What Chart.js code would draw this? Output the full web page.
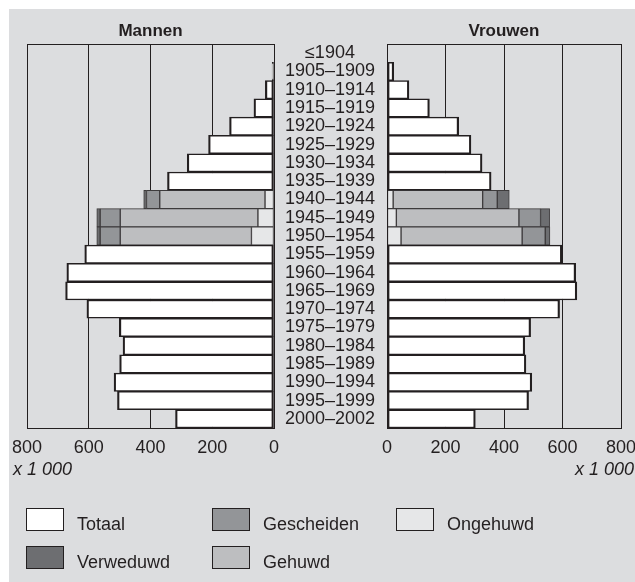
<!DOCTYPE html>
<html>
<head>
<meta charset="utf-8">
<title>Bevolking naar geboortejaar en burgerlijke staat</title>
<script src="https://cdn.jsdelivr.net/npm/chart.js@4.4.1/dist/chart.umd.min.js"></script>
<style>
  html, body { margin: 0; padding: 0; background: #fff; }
  body { width: 635px; height: 582px; position: relative; overflow: hidden;
         font-family: "Liberation Sans", Arial, Helvetica, sans-serif; color: #231f20; }
  #panel { position: absolute; left: 9px; top: 9px; right: 0; bottom: 0; background: #dcdddf; }
  canvas { position: absolute; top: 0; }
  #mannen { left: 0; }
  #vrouwen { left: 275px; }
  .eenheid { position: absolute; top: 458px; font-size: 18px; line-height: 22px; font-style: italic; }
  #legenda { position: absolute; left: 26px; top: 508px; display: grid;
             grid-template-columns: 186px 184px 200px; grid-template-rows: 38px 38px; grid-auto-flow: column; }
  .item { display: flex; align-items: flex-start; font-size: 18px; line-height: 22px; }
  .blok { width: 36px; height: 21px; border: 1px solid #231f20; box-sizing: content-box; }
  .item span { margin-left: 13px; margin-top: 5px; }
</style>
</head>
<body>
<div id="panel"></div>
<canvas id="mannen" width="282" height="582"></canvas>
<canvas id="vrouwen" width="360" height="582"></canvas>
<div class="eenheid" style="left:13px">x 1 000</div>
<div class="eenheid" style="right:1px">x 1 000</div>
<div id="legenda"></div>
<script>
// geboortejaren (van oud naar jong)
const geboortejaren = ['≤1904', '1905–1909', '1910–1914', '1915–1919', '1920–1924', '1925–1929',
  '1930–1934', '1935–1939', '1940–1944', '1945–1949', '1950–1954', '1955–1959', '1960–1964',
  '1965–1969', '1970–1974', '1975–1979', '1980–1984', '1985–1989', '1990–1994', '1995–1999', '2000–2002'];

// x 1 000; voor 1940-1954 is alleen de verdeling naar burgerlijke staat getekend
const mannenTotaal     = [0, 6, 28, 65, 144, 212, 281, 345, null, null, null, 613, 671, 675, 606, 501, 489, 500, 518, 507, 319];
const mannenOngehuwd   = [null, null, null, null, null, null, null, null, 29, 52, 73, null, null, null, null, null, null, null, null, null, null];
const mannenGehuwd     = [null, null, null, null, null, null, null, null, 341, 446, 425, null, null, null, null, null, null, null, null, null, null];
const mannenGescheiden = [null, null, null, null, null, null, null, null, 43, 65, 65, null, null, null, null, null, null, null, null, null, null];
const mannenVerweduwd  = [null, null, null, null, null, null, null, null, 9, 11, 11, null, null, null, null, null, null, null, null, null, null];

const vrouwenTotaal     = [0, 23, 75, 145, 245, 287, 325, 356, null, null, null, 598, 645, 649, 590, 491, 471, 475, 495, 484, 302];
const vrouwenOngehuwd   = [null, null, null, null, null, null, null, null, 21, 32, 48, null, null, null, null, null, null, null, null, null, null];
const vrouwenGehuwd     = [null, null, null, null, null, null, null, null, 306, 419, 414, null, null, null, null, null, null, null, null, null, null];
const vrouwenGescheiden = [null, null, null, null, null, null, null, null, 50, 74, 79, null, null, null, null, null, null, null, null, null, null];
const vrouwenVerweduwd  = [null, null, null, null, null, null, null, null, 41, 31, 16, null, null, null, null, null, null, null, null, null, null];

const xTicks = [0, 200, 400, 600, 800];

const kleuren = {
  Totaal: '#ffffff',
  Ongehuwd: '#e6e7e8',
  Gehuwd: '#bdbec0',
  Gescheiden: '#939598',
  Verweduwd: '#6d6e71'
};
const zwart = '#231f20';
const lettertype = '"Liberation Sans", Arial, Helvetica, sans-serif';

// dunne rand om het plotvlak
const kader = {
  id: 'kader',
  afterDatasetsDraw(chart) {
    const { ctx, chartArea: a } = chart;
    const al = p => Math.round(p - 0.5) + 0.5;
    ctx.save();
    ctx.strokeStyle = zwart;
    ctx.lineWidth = 1;
    ctx.strokeRect(al(a.left), al(a.top), al(a.right) - al(a.left), al(a.bottom) - al(a.top));
    ctx.restore();
  }
};

function maakDatasets(totaal, ongehuwd, gehuwd, gescheiden, verweduwd) {
  const reeksen = [
    ['Totaal', totaal], ['Ongehuwd', ongehuwd], ['Gehuwd', gehuwd],
    ['Gescheiden', gescheiden], ['Verweduwd', verweduwd]
  ];
  return reeksen.map(([naam, data]) => ({
    label: naam,
    data: data,
    backgroundColor: kleuren[naam],
    borderColor: naam === 'Totaal' ? zwart : '#3d3b3c',
    borderWidth: naam === 'Totaal' ? { top: 1.5, bottom: 1.5, left: 2.2, right: 2.2 } : 1,
    borderSkipped: false,
    barPercentage: 1,
    categoryPercentage: 1,
    stack: 'a'
  }));
}

function maakPiramide(id, titel, datasets, links) {
  const yAs = links
    ? { type: 'category', stacked: true, display: false }
    : {
        type: 'category', stacked: true, position: 'left',
        grid: { display: false }, border: { display: false },
        ticks: { font: { family: lettertype, size: 18 }, color: zwart, crossAlign: 'center', padding: 4, autoSkip: false },
        afterFit: s => { s.width = 108; }
      };
  return new Chart(document.getElementById(id), {
    type: 'bar',
    data: { labels: geboortejaren, datasets: datasets },
    options: {
      indexAxis: 'y',
      responsive: false,
      animation: false,
      devicePixelRatio: 1,
      layout: { padding: links ? { left: 27, right: 8, top: 21.6, bottom: 124 } : { left: 4, right: 14, top: 21.6, bottom: 124 } },
      scales: {
        x: {
          type: 'linear', min: 0, max: 800, reverse: links, stacked: true,
          afterBuildTicks: s => { s.ticks = xTicks.map(v => ({ value: v })); },
          grid: { color: zwart, lineWidth: 1, drawTicks: false },
          border: { display: true, color: zwart, width: 1 },
          ticks: { font: { family: lettertype, size: 18 }, color: zwart, padding: 9, maxRotation: 0, autoSkip: false },
          afterFit: s => { s.height = 30; s.paddingLeft = 0; s.paddingRight = 0; }
        },
        y: yAs
      },
      plugins: {
        legend: { display: false },
        tooltip: { enabled: false },
        title: {
          display: true, text: titel, fullSize: false, color: zwart,
          font: { family: lettertype, size: 17, weight: 'bold', lineHeight: 1.2 },
          padding: { top: 0, bottom: 2 }
        }
      }
    },
    plugins: [kader]
  });
}

maakPiramide('mannen', 'Mannen',
  maakDatasets(mannenTotaal, mannenOngehuwd, mannenGehuwd, mannenGescheiden, mannenVerweduwd), true);
maakPiramide('vrouwen', 'Vrouwen',
  maakDatasets(vrouwenTotaal, vrouwenOngehuwd, vrouwenGehuwd, vrouwenGescheiden, vrouwenVerweduwd), false);

// legenda: kolomsgewijs gevuld, zoals in het origineel
const legendaVolgorde = ['Totaal', 'Verweduwd', 'Gescheiden', 'Gehuwd', 'Ongehuwd'];
const legenda = document.getElementById('legenda');
legendaVolgorde.forEach(naam => {
  const item = document.createElement('div');
  item.className = 'item';
  const blok = document.createElement('div');
  blok.className = 'blok';
  blok.style.background = kleuren[naam];
  const tekst = document.createElement('span');
  tekst.textContent = naam;
  item.appendChild(blok);
  item.appendChild(tekst);
  legenda.appendChild(item);
});
</script>
</body>
</html>
